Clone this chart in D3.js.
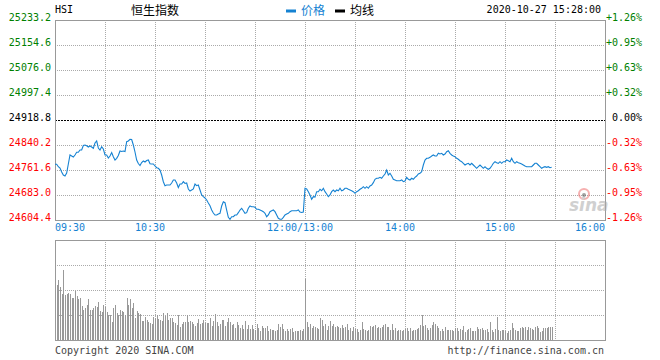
<!DOCTYPE html>
<html><head><meta charset="utf-8">
<script src="https://cdn.jsdelivr.net/npm/d3@7"></script>
<style>
body{margin:0;background:#fff;}
svg{display:block;}
text{font-family:"DejaVu Sans Mono",monospace;font-size:10px;}
</style></head><body><svg id="c" width="660" height="360"></svg>
<script>
// ---------- data ----------
const symbol = "HSI";
const title = "恒生指数";
const legendNames = ["价格", "均线"];
const stamp = "2020-10-27 15:28:00";
const prevClose = 24918.8;
const priceTicks = [25233.2, 25154.6, 25076.0, 24997.4, 24918.8, 24840.2, 24761.6, 24683.0, 24604.4];
const priceTickLabels = ["25233.2","25154.6","25076.0","24997.4","24918.8","24840.2","24761.6","24683.0","24604.4"];
const pctLabels = ["+1.26%","+0.95%","+0.63%","+0.32%","0.00%","-0.32%","-0.63%","-0.95%","-1.26%"];
const timeLabels = ["09:30","10:30","12:00/13:00","14:00","15:00","16:00"];
const timeLabelMinutes = [0, 60, 150, 210, 270, 330];
const sessionMinutes = 330;
const volTicks = [0, 25, 50, 75, 100];
// one value per trading minute from 09:30 (12:00 and 13:00 share index 150)
const prices = [
24779.5,24779.5,24772.0,24767.9,24755.3,24745.9,24742.7,24752.2,24780.5,24808.8,
24805.6,24802.5,24808.8,24817.2,24817.2,24824.5,24824.5,24838.6,24840.2,24838.0,
24833.9,24837.1,24833.9,24829.8,24846.5,24852.8,24830.8,24824.5,24834.9,24827.6,
24808.8,24808.8,24799.3,24805.6,24816.6,24803.4,24793.0,24798.4,24807.2,24821.3,
24819.8,24821.3,24819.8,24850.6,24852.8,24858.1,24857.5,24840.2,24818.2,24793.0,
24782.0,24775.7,24785.2,24789.9,24786.8,24791.5,24793.0,24781.4,24780.5,24780.5,
24774.2,24768.8,24766.9,24761.6,24745.9,24724.8,24712.2,24714.4,24714.4,24714.4,
24720.7,24730.2,24730.2,24720.7,24706.6,24717.6,24717.6,24724.8,24719.2,24720.7,
24701.9,24695.6,24698.7,24701.9,24717.6,24712.2,24714.4,24698.7,24683.0,24677.7,
24673.6,24667.3,24657.8,24649.4,24635.8,24626.4,24620.1,24620.1,24623.3,24625.5,
24648.4,24661.9,24658.8,24635.8,24612.9,24606.6,24614.8,24614.8,24620.1,24620.1,
24627.4,24635.8,24641.2,24633.6,24625.5,24627.4,24641.2,24648.4,24646.2,24646.2,
24644.3,24638.0,24638.0,24635.8,24633.6,24630.5,24625.5,24614.8,24620.1,24630.5,
24633.6,24635.8,24630.5,24620.1,24609.7,24606.6,24606.6,24612.9,24620.1,24623.3,
24625.5,24630.5,24633.6,24633.6,24633.6,24633.6,24635.8,24629.6,24628.0,24629.6,
24704.1,24701.9,24693.4,24683.0,24669.5,24677.7,24676.7,24693.4,24693.4,24700.9,
24696.5,24704.1,24693.4,24686.1,24677.7,24683.0,24693.4,24698.7,24693.4,24698.7,
24696.5,24704.1,24696.5,24698.7,24704.1,24704.1,24700.9,24698.7,24696.5,24693.4,
24688.3,24693.4,24696.5,24700.9,24704.1,24709.1,24704.1,24709.1,24704.1,24711.3,
24714.4,24721.7,24732.4,24735.5,24735.5,24738.6,24735.5,24742.7,24749.0,24761.6,
24745.9,24751.2,24742.7,24732.4,24730.2,24728.0,24728.0,24728.0,24730.2,24724.8,
24727.0,24738.6,24732.4,24730.2,24735.5,24732.4,24738.6,24742.7,24749.0,24751.2,
24756.3,24777.3,24793.0,24798.4,24798.4,24801.5,24805.6,24808.8,24805.6,24805.6,
24814.1,24811.9,24814.1,24808.8,24811.9,24819.1,24822.3,24814.1,24808.8,24805.6,
24803.4,24798.4,24795.2,24790.8,24787.7,24782.7,24777.3,24780.5,24782.7,24777.3,
24782.7,24777.3,24772.0,24766.9,24772.0,24777.3,24772.0,24766.9,24772.0,24766.9,
24763.8,24766.9,24774.2,24782.7,24787.7,24784.6,24782.7,24787.7,24782.7,24787.7,
24787.7,24793.0,24790.8,24787.7,24798.4,24787.7,24782.7,24787.7,24784.6,24782.7,
24780.5,24777.3,24774.2,24772.0,24772.0,24772.0,24772.0,24777.3,24782.7,24782.7,
24777.3,24772.0,24766.9,24770.1,24772.0,24770.1,24772.0,24768.8,24770.1
];
const volumes = [
50,
55,60,53,46,70,45,46,47,46,42,
42,49,44,41,42,34,30,32,35,41,
30,30,32,34,33,38,29,28,35,33,
28,25,25,18,32,35,27,25,30,29,
28,25,42,35,41,32,37,22,29,27,
26,19,19,23,20,18,17,16,23,22,
25,21,20,19,27,24,27,20,22,22,
18,17,15,25,13,16,18,18,25,18,
19,18,16,14,17,21,16,17,20,17,
17,17,22,14,19,26,18,14,16,20,
20,14,17.7,22.3,17.7,15,16,12.3,17.7,15,
11.7,15,11,19,11,15,11,15,11,10,
16,12,9,14,12.3,12.3,14,9,11,10,
10,9,10,16,13.3,16,11,9,11,9,
11,12.3,7.7,9,9,9,10,9,11,61,
17.7,13.3,16,11.7,14,13.3,11.7,11,22.3,20,
14,16,10,14,19,14,16,13.3,14,13.3,
11.7,15,12.3,13.3,16,10,11.7,9,13.3,11,
11,8.3,10,18.3,11,10,9,10,14,13.3,
14,15,12.3,13.3,11.7,13.3,15,15.7,13.3,13.3,
10,16,10,12.3,9,10,10,9,10,11,
12.3,9,12.3,9,10,10,11,12.3,15,25,
14,15,12.3,10,12.3,15,18.3,16,14,12.3,
9,11,9,13.3,10,10,10,10,9,12.3,
12.3,9,11,10,14,8.3,10,11,12.3,9,
9,9,13.3,11,11,12.3,10,10,11,8.3,
18.3,10,8.3,11,23.3,10,9,10,10,9,
7,9,10,16.7,12.3,10,9,9,12.3,13.3,
12.3,13.3,10,13.3,12.3,11,10,13.3,14,12.3,
8.3,9,12.3,12.3,12.3,13.3,13.3,13.3
];

// ---------- drawing ----------
const svg = d3.select("#c");
const L = 55, R = 605, T = 20, B = 220, VT = 240, VB = 340;
const GRID = "#aaaaaa", FRAME = "#999999", BLUE = "#1582d2";
const UP = "#008000", DOWN = "#ff0000";

const x = d3.scaleLinear().domain([0, sessionMinutes]).range([L, R]);
const y = d3.scaleLinear().domain([priceTicks[priceTicks.length-1], priceTicks[0]]).range([B, T]);
const yv = d3.scaleLinear().domain([volTicks[0], volTicks[volTicks.length-1]]).range([VB, VT]);
const px = v => Math.round(v) + 0.5;

const gridMin = d3.range(30, sessionMinutes, 30);

// main panel grid
const g1 = svg.append("g");
g1.selectAll(".vg").data(gridMin).join("line")
  .attr("x1", d => px(x(d))).attr("x2", d => px(x(d)))
  .attr("y1", T).attr("y2", B)
  .attr("stroke", GRID).attr("stroke-dasharray", "1,1");
g1.selectAll(".hg").data(priceTicks.slice(1, -1).filter(v => v !== prevClose)).join("line")
  .attr("x1", L).attr("x2", R)
  .attr("y1", d => px(y(d))).attr("y2", d => px(y(d)))
  .attr("stroke", GRID).attr("stroke-dasharray", "1,1");
g1.append("line")
  .attr("x1", L).attr("x2", R)
  .attr("y1", px(y(prevClose))).attr("y2", px(y(prevClose)))
  .attr("stroke", "#000").attr("stroke-dasharray", "2,1");
g1.append("rect").attr("x", L + 0.5).attr("y", T + 0.5)
  .attr("width", R - L).attr("height", B - T)
  .attr("fill", "none").attr("stroke", FRAME);

// watermark
const wm = svg.append("g").attr("opacity", 0.55);
wm.append("circle").attr("cx", 584).attr("cy", 194).attr("r", 5)
  .attr("fill", "none").attr("stroke", "#f07070").attr("stroke-width", 2);
wm.append("circle").attr("cx", 584).attr("cy", 195).attr("r", 2).attr("fill", "#555");
wm.append("text").attr("x", 569).attr("y", 211)
  .style("font-family", "DejaVu Sans, sans-serif").style("font-size", "17px")
  .style("font-style", "italic").style("font-weight", "bold")
  .attr("fill", "#aaaaaa").text("sina");

// price line
const line = d3.line().x((d, i) => x(i)).y(d => y(d));
svg.append("path").datum(prices)
  .attr("d", line).attr("fill", "none")
  .attr("stroke", BLUE).attr("stroke-width", 1.1);

// left / right labels
const colorFor = v => v > prevClose ? UP : (v < prevClose ? DOWN : "#000");
svg.selectAll(".yl").data(priceTicks).join("text")
  .attr("x", 51).attr("y", d => y(d) + 1)
  .attr("text-anchor", "end").attr("fill", d => colorFor(d))
  .text((d, i) => priceTickLabels[i]);
svg.selectAll(".pl").data(priceTicks).join("text")
  .attr("x", 642).attr("y", d => y(d) + 1)
  .attr("text-anchor", "end").attr("fill", d => colorFor(d))
  .text((d, i) => pctLabels[i]);

// time labels
svg.selectAll(".tl").data(timeLabelMinutes).join("text")
  .attr("x", (d, i) => i === 0 ? x(d) : (i === timeLabelMinutes.length - 1 ? x(d) : x(d) - 5))
  .attr("y", 231)
  .attr("text-anchor", (d, i) => i === 0 ? "start" : (i === timeLabelMinutes.length - 1 ? "end" : "middle"))
  .attr("fill", BLUE)
  .text((d, i) => timeLabels[i]);

// volume panel grid
const g2 = svg.append("g");
g2.selectAll(".vg").data(gridMin).join("line")
  .attr("x1", d => px(x(d))).attr("x2", d => px(x(d)))
  .attr("y1", VT).attr("y2", VB)
  .attr("stroke", GRID).attr("stroke-dasharray", "1,1");
g2.selectAll(".hg").data(volTicks.slice(1, -1)).join("line")
  .attr("x1", L).attr("x2", R)
  .attr("y1", d => px(yv(d))).attr("y2", d => px(yv(d)))
  .attr("stroke", GRID).attr("stroke-dasharray", "1,1");

// volume bars
svg.append("g").attr("shape-rendering", "crispEdges")
  .selectAll("rect").data(volumes).join("rect")
  .attr("x", (d, i) => Math.round(x(i)))
  .attr("width", 1)
  .attr("y", d => yv(d))
  .attr("height", d => VB - yv(d))
  .attr("fill", "#999999");

g2.append("rect").attr("x", L + 0.5).attr("y", VT + 0.5)
  .attr("width", R - L).attr("height", VB - VT)
  .attr("fill", "none").attr("stroke", FRAME);
svg.append("rect").attr("x", L + 0.5).attr("y", VT + 0.5)
  .attr("width", R - L).attr("height", VB - VT)
  .attr("fill", "none").attr("stroke", FRAME);

// header
svg.append("text").attr("x", 55).attr("y", 13).attr("fill", "#000").text(symbol);
svg.append("text").attr("x", 131).attr("y", 15)
  .style("font-family", "'Noto Sans CJK SC', sans-serif").style("font-size", "12px")
  .attr("fill", "#000").text(title);
const legColors = [BLUE, "#000"];
const legX = [286, 335];
legendNames.forEach((n, i) => {
  svg.append("rect").attr("x", legX[i]).attr("y", 9.5).attr("width", 10).attr("height", 3).attr("fill", legColors[i]);
  svg.append("text").attr("x", legX[i] + 15).attr("y", 15)
    .style("font-family", "'Noto Sans CJK SC', sans-serif").style("font-size", "12px")
    .attr("fill", legColors[i]).text(n);
});
svg.append("text").attr("x", 601).attr("y", 13).attr("text-anchor", "end").attr("fill", "#000").text(stamp);

// footer
svg.append("text").attr("x", 55).attr("y", 354).attr("fill", "#444").text("Copyright 2020 SINA.COM");
svg.append("text").attr("x", 604).attr("y", 354).attr("text-anchor", "end").attr("fill", "#444").text("http://finance.sina.com.cn");
</script></body></html>
